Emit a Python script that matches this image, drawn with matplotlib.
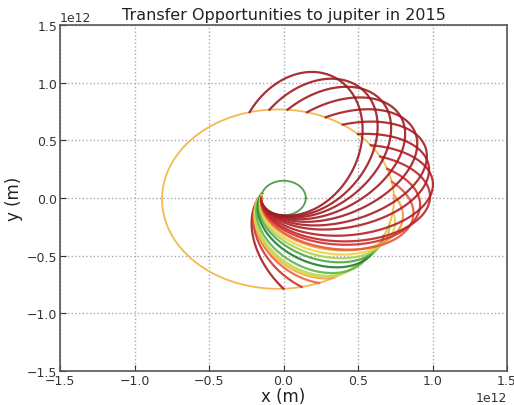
import numpy as np
import matplotlib
matplotlib.use("Agg")
import matplotlib.pyplot as plt

# Orbits (metres / degrees)
earth_radius = 1.496e11
jup_a = 7.785e11
jup_e = 0.0489
jup_peri_deg = 14.75

# Transfer arcs: departure angle, arrival angle, perihelion angle (deg), colour
dep_deg = [167, 166, 165, 164, 163, 163, 164, 165, 167, 169, 172, 175, 177, 180, 185, 193, 203, 212, 222, 232, 242, 251, 261]
arr_deg = [270, 279, 288, 296, 304, 311, 318, 326, 334, 342, 351, 362, 371, 380, 389, 398, 408, 418, 428, 438, 448, 457, 467]
peri_deg = [116, 119, 121, 122, 122, 125, 130, 138, 145, 151, 157, 164, 168, 175, 181, 189, 199, 208, 218, 228, 238, 247, 257]
arc_colors = ["#a31d22", "#d2332b", "#e8663f", "#f09a48", "#ecd048", "#b9d955", "#5fb548",
              "#1f7f2e", "#4da843", "#a8d450", "#ecd447", "#f29a45", "#e5583a", "#cf3129",
              "#bf2427", "#b41f25", "#ad1e24", "#a81d23", "#a51c22", "#a31c22", "#a01b21",
              "#9e1b21", "#9c1a20"]

title = "Transfer Opportunities to jupiter in 2015"
xlabel = "x (m)"
ylabel = "y (m)"


def jupiter_r(theta):
    p = jup_a * (1 - jup_e ** 2)
    return p / (1 + jup_e * np.cos(theta - np.radians(jup_peri_deg)))


fig = plt.figure(figsize=(5.14, 4.06), dpi=100)
ax = fig.add_axes([60 / 514, 34 / 406, 447 / 514, 346 / 406])

th = np.linspace(0, 2 * np.pi, 720)
ax.plot(jupiter_r(th) * np.cos(th), jupiter_r(th) * np.sin(th), color="#f3b94f", lw=1.3, zorder=2)
ax.plot(earth_radius * np.cos(th), earth_radius * np.sin(th), color="#4f9e4f", lw=1.3, zorder=2)

for d, a, w, c in zip(dep_deg, arr_deg, peri_deg, arc_colors):
    t1, t2, om = np.radians(d), np.radians(a), np.radians(w)
    r1, r2 = earth_radius, jupiter_r(t2)
    b = (1 / r1 - 1 / r2) / (np.cos(t1 - om) - np.cos(t2 - om))
    aa = 1 / r1 - b * np.cos(t1 - om)
    t = np.linspace(t1, t2, 400)
    r = 1 / (aa + b * np.cos(t - om))
    ax.plot(r * np.cos(t), r * np.sin(t), color=c, lw=1.6, alpha=0.9, zorder=3)

ax.set_xlim(-1.5e12, 1.5e12)
ax.set_ylim(-1.5e12, 1.5e12)
ax.set_xticks(np.arange(-1.5e12, 1.51e12, 0.5e12))
ax.set_yticks(np.arange(-1.5e12, 1.51e12, 0.5e12))
ax.grid(True, color="#aaaaaa", linestyle=":", lw=1.0)
ax.tick_params(direction="in", labelsize=9, colors="#333333", length=4, pad=2)
for s in ax.spines.values():
    s.set_color("#555555")
    s.set_linewidth(1.2)
ax.set_title(title, fontsize=11.5, color="#222222", pad=4)
ax.set_xlabel(xlabel, fontsize=12, color="#222222", labelpad=0)
ax.set_ylabel(ylabel, fontsize=12, color="#222222", labelpad=3)
ax.xaxis.get_offset_text().set_fontsize(9)
ax.yaxis.get_offset_text().set_fontsize(9)

fig.savefig("out.png", dpi=100)
